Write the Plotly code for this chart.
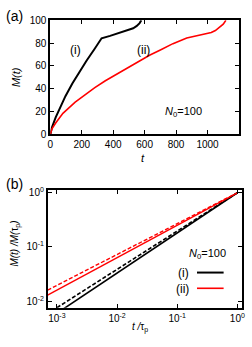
import plotly.graph_objects as go

# ---- data panel (a) ----
t_i = [0, 10, 34, 60, 96, 140, 179, 230, 280, 326, 380, 444, 500, 527, 550, 568, 579]
M_i = [0, 6.1, 15, 23.4, 33.5, 44.6, 53.5, 64.6, 74.6, 84.2, 86.3, 89, 91.5, 93, 95, 97.5, 100]
t_ii = [0, 10, 34, 80, 158, 220, 283, 350, 420, 481, 560, 631, 700, 780, 868, 920, 970, 1024, 1050, 1076, 1100, 1117]
M_ii = [0, 5, 10, 18.5, 28.3, 35, 41, 47, 52.5, 57.5, 63.5, 69.4, 74, 79.5, 84.4, 86.2, 87.6, 89.3, 91, 93.5, 96.5, 100]

# ---- data panel (b) ----
x_i = [0.001, 1.0]
y_i = [0.0060, 1.0]
x_i_fit = [0.001, 1.0]
y_i_fit = [0.0076, 1.0]
x_ii = [0.0007, 1.0]
y_ii = [0.0129, 1.0]
x_ii_fit = [0.0007, 1.0]
y_ii_fit = [0.0160, 1.0]

xa_ticks = [0, 200, 400, 600, 800, 1000]
ya_ticks = [0, 20, 40, 60, 80, 100]
xb_ticks = [0.001, 0.01, 0.1, 1]
xb_text = ["10<sup>-3</sup>", "10<sup>-2</sup>", "10<sup>-1</sup>", "10<sup>0</sup>"]
yb_ticks = [0.01, 0.1, 1]
yb_text = ["10<sup>-2</sup>", "10<sup>-1</sup>", "10<sup>0</sup>"]

FONT = "Liberation Sans, Arial, sans-serif"
W, H = 252, 347

fig = go.Figure()
fig.add_trace(go.Scatter(x=t_i, y=M_i, mode="lines", line=dict(color="black", width=2), xaxis="x", yaxis="y"))
fig.add_trace(go.Scatter(x=t_ii, y=M_ii, mode="lines", line=dict(color="#ff0000", width=1.6), xaxis="x", yaxis="y"))

fig.add_trace(go.Scatter(x=x_i_fit, y=y_i_fit, mode="lines", line=dict(color="black", width=1.6, dash="4px,2px"), xaxis="x2", yaxis="y2"))
fig.add_trace(go.Scatter(x=x_ii_fit, y=y_ii_fit, mode="lines", line=dict(color="#ff0000", width=1.4, dash="4px,2px"), xaxis="x2", yaxis="y2"))
fig.add_trace(go.Scatter(x=x_i, y=y_i, mode="lines", line=dict(color="black", width=1.6), xaxis="x2", yaxis="y2"))
fig.add_trace(go.Scatter(x=x_ii, y=y_ii, mode="lines", line=dict(color="#ff0000", width=1.4), xaxis="x2", yaxis="y2"))

ax_common = dict(showline=True, linecolor="black", linewidth=2, mirror="ticks", ticks="inside",
                 ticklen=4, tickwidth=1, tickcolor="black", showgrid=False, zeroline=False,
                 tickfont=dict(size=10, color="black", family=FONT))

fig.update_layout(
    width=W, height=H, autosize=False,
    margin=dict(l=0, r=0, t=0, b=0),
    paper_bgcolor="white", plot_bgcolor="white",
    showlegend=False,
    font=dict(family=FONT, color="black"),
    xaxis=dict(ax_common, domain=[48.5 / W, 241.7 / W], range=[0, 1200], tickvals=xa_ticks, anchor="y"),
    yaxis=dict(ax_common, domain=[1 - 133.3 / H, 1 - 15.7 / H], range=[0, 100], tickvals=ya_ticks, anchor="x"),
    xaxis2=dict(ax_common, domain=[46 / W, 245 / W], type="log", range=[-3.15, 0.08],
                tickvals=xb_ticks, ticktext=xb_text, anchor="y2"),
    yaxis2=dict(ax_common, domain=[1 - 311.7 / H, 1 - 190 / H], type="log", range=[-2.12, 0.06],
                tickvals=yb_ticks, ticktext=yb_text, anchor="x2"),
)

def ann(x, y, text, size=10, angle=0, xanchor="center"):
    fig.add_annotation(x=x / W, y=1 - y / H, xref="paper", yref="paper", text=text, showarrow=False,
                       font=dict(size=size, color="black", family=FONT), textangle=angle,
                       xanchor=xanchor, yanchor="middle")

ann(12, 11, "(a)", size=14)
ann(12, 184, "(b)", size=14)
ann(13.5, 74, "<i>M(t)</i>", size=11, angle=-90)
ann(143, 158, "<i>t</i>", size=11)
ann(74.5, 46.7, "(i)", size=12)
ann(144, 46.7, "(ii)", size=12)
ann(184.5, 110, "<i>N</i><sub>0</sub>=100", size=11)
ann(13, 246, "<i>M(t) /M(</i>τ<sub>p</sub><i>)</i>", size=10, angle=-90)
ann(140, 332, "<i>t /</i>τ<sub>p</sub>", size=10)
ann(209, 256, "<i>N</i><sub>0</sub>=100", size=11)
ann(193, 276, "(i)", size=12, xanchor="right")
ann(193, 292, "(ii)", size=12, xanchor="right")

fig.add_shape(type="line", xref="paper", yref="paper", x0=198.7 / W, x1=226 / W, y0=1 - 275.5 / H, y1=1 - 275.5 / H,
              line=dict(color="black", width=2))
fig.add_shape(type="line", xref="paper", yref="paper", x0=198.7 / W, x1=226 / W, y0=1 - 291.7 / H, y1=1 - 291.7 / H,
              line=dict(color="#ff0000", width=1.6))

fig.write_html("out.html", config={"displayModeBar": False},
               post_script="document.body.style.margin='0';document.body.style.overflow='hidden';")
